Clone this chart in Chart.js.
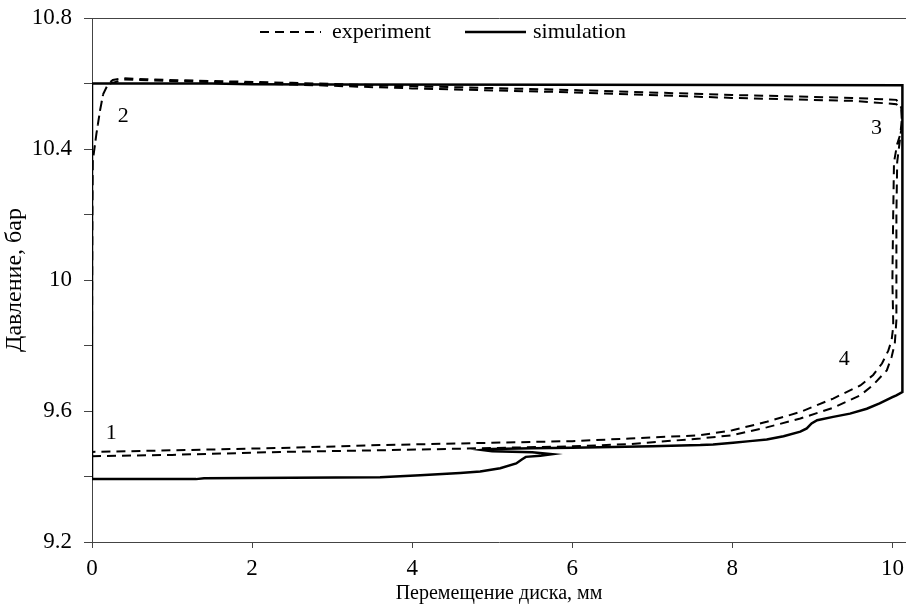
<!DOCTYPE html>
<html><head><meta charset="utf-8">
<script src="https://cdn.jsdelivr.net/npm/chart.js@4/dist/chart.umd.min.js"></script>
<style>html,body{margin:0;padding:0;background:#fff;}</style>
</head><body>
<canvas id="c" width="906" height="616"></canvas>
<script>
// ---- data ----
const xTicks = [0, 2, 4, 6, 8, 10];
const yTicks = [9.2, 9.4, 9.6, 9.8, 10.0, 10.2, 10.4, 10.6, 10.8];
const yTickLabels = ['9.2', '', '9.6', '', '10', '', '10.4', '', '10.8'];

const simX = [0, 0, 0.5, 1.5, 2.0, 3.0, 6.0, 10.12, 10.125, 10.125, 10.05, 10.0, 9.84, 9.68, 9.47, 9.26, 9.06, 8.99, 8.93, 8.85, 8.64, 8.43, 8.22, 8.01, 7.76, 7.6, 7.0, 6.5, 6.0, 5.5, 5.0, 4.87, 5.0, 5.5, 5.75, 5.6, 5.42, 5.37, 5.3, 5.1, 4.85, 4.6, 4.1, 3.6, 2.5, 1.4, 1.3, 0];
const simY = [9.392, 10.6, 10.6, 10.6, 10.598, 10.597, 10.596, 10.595, 10.595, 9.658, 9.648, 9.642, 9.623, 9.607, 9.592, 9.582, 9.572, 9.562, 9.547, 9.537, 9.523, 9.513, 9.508, 9.503, 9.498, 9.496, 9.492, 9.490, 9.488, 9.486, 9.484, 9.481, 9.477, 9.474, 9.468, 9.463, 9.460, 9.452, 9.440, 9.425, 9.415, 9.411, 9.404, 9.398, 9.396, 9.395, 9.392, 9.392];

const expX = [0, 1, 2.35, 3.6, 5, 6, 6.72, 7.6, 8.0, 8.43, 8.85, 9.26, 9.6, 9.76, 9.93, 9.99, 10.03, 10.05, 10.05, 10.05, 10.06, 10.09, 10.12, 10.11, 10.05, 9.5, 8, 6, 4, 2.5, 1.1, 0.4, 0.2, 0.14, 0.1, 0.055, 0.01, 0.005, 0,
              0, 1, 2.35, 3.6, 5, 6, 6.72, 7.6, 8.0, 8.43, 8.85, 9.26, 9.6, 9.76, 9.87, 9.95, 9.99, 10.01, 10.01, 10.0, 10.01, 10.02, 10.06, 10.1, 10.12, 10.11, 10.05, 9.5, 8, 6, 4, 2.5, 1.1, 0.68, 0.39, 0.26, 0.2, 0.14, 0.1, 0.055, 0.01, 0, 0];
const expY = [9.462, 9.466, 9.475, 9.480, 9.487, 9.492, 9.499, 9.516, 9.526, 9.550, 9.577, 9.610, 9.648, 9.680, 9.724, 9.765, 9.806, 9.877, 10.0, 10.2, 10.36, 10.42, 10.48, 10.52, 10.537, 10.547, 10.556, 10.573, 10.585, 10.597, 10.607, 10.612, 10.598, 10.568, 10.517, 10.446, 10.364, 10.2, 9.8,
              9.475, 9.480, 9.487, 9.496, 9.503, 9.508, 9.516, 9.526, 9.541, 9.567, 9.597, 9.638, 9.678, 9.710, 9.745, 9.785, 9.816, 9.856, 9.877, 10.0, 10.2, 10.36, 10.415, 10.446, 10.496, 10.527, 10.550, 10.556, 10.565, 10.580, 10.592, 10.602, 10.610, 10.613, 10.616, 10.611, 10.598, 10.568, 10.517, 10.446, 10.364, 10.2, 9.47];

const seriesNames = ['experiment', 'simulation'];
const noteTexts = ['1', '2', '3', '4'];
const noteX = [0.24, 0.39, 9.8, 9.4];
const noteY = [9.532, 10.499, 10.463, 9.758];
// ---------------------------------------

const FONT = '"Liberation Serif", "Times New Roman", serif';
const pts = (xs, ys) => xs.map((x, i) => ({x: x, y: ys[i]}));

const overlay = {
  id: 'overlay',
  afterDraw(chart) {
    const {ctx, chartArea, scales} = chart;
    ctx.save();
    ctx.fillStyle = '#000';
    ctx.strokeStyle = '#000';
    ctx.font = '22px ' + FONT;
    ctx.textBaseline = 'middle';
    ctx.textAlign = 'left';
    // inline legend
    const ly = chartArea.top + 14;
    const starts = [chartArea.left + 168, chartArea.left + 373];
    chart.data.datasets.forEach((ds, i) => {
      const x0 = starts[i];
      ctx.beginPath();
      ctx.lineWidth = ds.borderWidth;
      ctx.setLineDash(ds.borderDash || []);
      ctx.moveTo(x0, ly);
      ctx.lineTo(x0 + 61, ly);
      ctx.stroke();
      ctx.setLineDash([]);
      ctx.fillText(ds.label, x0 + (i === 0 ? 72 : 68), ly);
    });
    // point labels
    ctx.textAlign = 'center';
    noteTexts.forEach((t, i) => {
      ctx.fillText(t, scales.x.getPixelForValue(noteX[i]), scales.y.getPixelForValue(noteY[i]));
    });
    ctx.restore();
  }
};

new Chart(document.getElementById('c'), {
  type: 'scatter',
  data: {
    datasets: [
      {label: seriesNames[0], data: pts(expX, expY), showLine: true, borderColor: '#000', borderWidth: 2, borderDash: [9, 6], pointRadius: 0, tension: 0, fill: false},
      {label: seriesNames[1], data: pts(simX, simY), showLine: true, borderColor: '#000', borderWidth: 2.5, pointRadius: 0, tension: 0, fill: false}
    ]
  },
  options: {
    responsive: false,
    animation: false,
    layout: {padding: {top: 18, left: 0, right: 0, bottom: 0}},
    plugins: {legend: {display: false}, tooltip: {enabled: false}},
    scales: {
      x: {
        type: 'linear', min: 0, max: 10.17,
        afterBuildTicks: s => { s.ticks = xTicks.map(v => ({value: v})); },
        afterFit: s => { s.height = 74; s.paddingLeft = 0; s.paddingRight = 0; },
        ticks: {font: {family: FONT, size: 23}, color: '#000', padding: 7, maxRotation: 0},
        grid: {display: true, drawOnChartArea: false, drawTicks: true, tickLength: 6, tickColor: '#444', color: '#444'},
        border: {display: true, color: '#444', width: 1},
        title: {display: true, text: 'Перемещение диска, мм', font: {family: FONT, size: 20}, color: '#000', padding: {top: 0, bottom: 10}}
      },
      y: {
        type: 'linear', min: 9.2, max: 10.8,
        afterBuildTicks: s => { s.ticks = yTicks.map(v => ({value: v})); },
        afterFit: s => { s.width = 92; s.paddingTop = 0; s.paddingBottom = 0; },
        ticks: {font: {family: FONT, size: 23}, color: '#000', padding: 12,
                callback: (v, i) => yTickLabels[i]},
        grid: {display: true, drawOnChartArea: true, drawTicks: true, tickLength: 8, tickColor: '#444',
               color: c => (c.tick && Math.abs(c.tick.value - 10.8) < 1e-6) ? '#444' : 'rgba(0,0,0,0)'},
        border: {display: true, color: '#444', width: 1},
        title: {display: true, text: 'Давление, бар', font: {family: FONT, size: 24}, color: '#000', padding: {top: 0, bottom: 0}}
      }
    }
  },
  plugins: [overlay]
});
</script>
</body></html>
